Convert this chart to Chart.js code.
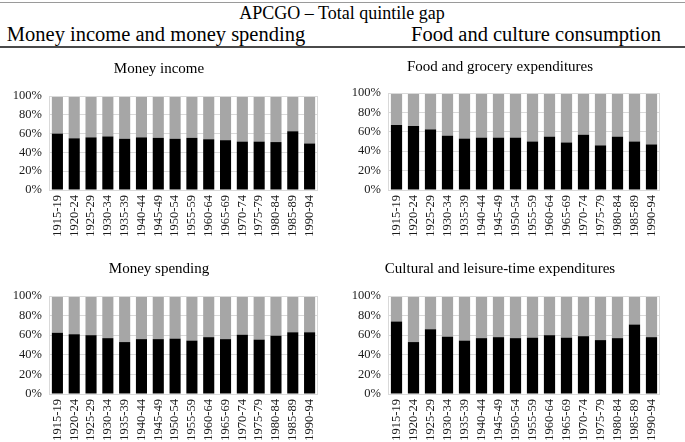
<!DOCTYPE html>
<html>
<head>
<meta charset="utf-8">
<script src="https://cdn.jsdelivr.net/npm/chart.js@4"></script>
<style>
    body { margin: 0; background: #fff; font-family: "Liberation Serif", serif; }
    #page { position: relative; width: 685px; height: 442px; overflow: hidden; }
    .rule-top { position: absolute; left: 0; top: 2px; width: 685px; height: 1px; background: #9a9a9a; }
    .rule-mid { position: absolute; left: 0; top: 46px; width: 685px; height: 2px; background: #4a4a4a; }
    .head { position: absolute; white-space: nowrap; color: #000; transform: translateX(-50%); }
    .panel { position: absolute; }
</style>
</head>
<body>
<div id="page">
    <div class="rule-top"></div>
    <div class="head" style="left:342px; top:3px; font-size:18px; line-height:20px;">APCGO – Total quintile gap</div>
    <div class="head" style="left:156px; top:23px; font-size:20.5px; line-height:22px;">Money income and money spending</div>
    <div class="head" style="left:536px; top:23px; font-size:20.5px; line-height:22px;">Food and culture consumption</div>
    <div class="rule-mid"></div>

    <div class="panel" style="left:0px; top:55px; width:340px; height:195px;"><canvas id="incomeChart"></canvas></div>
    <div class="panel" style="left:340px; top:55px; width:336px; height:195px;"><canvas id="foodChart"></canvas></div>
    <div class="panel" style="left:0px; top:255px; width:340px; height:187px;"><canvas id="spendChart"></canvas></div>
    <div class="panel" style="left:340px; top:255px; width:336px; height:187px;"><canvas id="cultureChart"></canvas></div>
</div>

<script>
// Periods (x axis)
const periods = ["1915-19", "1920-24", "1925-29", "1930-34", "1935-39", "1940-44", "1945-49", "1950-54",
    "1955-59", "1960-64", "1965-69", "1970-74", "1975-79", "1980-84", "1985-89", "1990-94"];

// Y axis ticks (percent)
const percentTicks = [0, 20, 40, 60, 80, 100];

// Money income
const incomeBottom = [60, 55, 56, 57, 54.5, 56, 55.5, 54.5, 55.5, 54, 53, 51.5, 51.5, 51, 62.5, 49.5];
const incomeTop = [40, 45, 44, 43, 45.5, 44, 44.5, 45.5, 44.5, 46, 47, 48.5, 48.5, 49, 37.5, 50.5];

// Food and grocery expenditures
const foodBottom = [67, 66, 62.5, 56, 53, 54, 54, 54, 50, 55, 49, 57, 46, 55, 50, 47];
const foodTop = [33, 34, 37.5, 44, 47, 46, 46, 46, 50, 45, 51, 43, 54, 45, 50, 53];

// Money spending
const spendBottom = [62.5, 61, 60, 57, 53, 56, 56, 56.5, 54.5, 58, 56, 60.5, 55.5, 59.5, 63, 63];
const spendTop = [37.5, 39, 40, 43, 47, 44, 44, 43.5, 45.5, 42, 44, 39.5, 44.5, 40.5, 37, 37];

// Cultural and leisure-time expenditures
const cultureBottom = [74, 53, 66, 58.5, 54.5, 57, 58, 57, 57.5, 60, 57.5, 59, 55, 57, 71, 58];
const cultureTop = [26, 47, 34, 41.5, 45.5, 43, 42, 43, 42.5, 40, 42.5, 41, 45, 43, 29, 42];

// Colors
const barColors = {
    bottom: "#000000",
    top: "#a6a6a6",
    grid: "#d9d9d9",
    text: "#1a1a1a"
};

const serif = "'Liberation Serif', 'Times New Roman', serif";

// Light frame around the plot area
const frameLines = {
    id: "frameLines",
    afterDraw(chart) {
        const { ctx, chartArea } = chart;
        ctx.save();
        ctx.strokeStyle = barColors.grid;
        ctx.lineWidth = 1;
        ctx.strokeRect(Math.round(chartArea.left) + 0.5, Math.round(chartArea.top) + 0.5,
            Math.round(chartArea.right - chartArea.left) - 1, Math.round(chartArea.bottom - chartArea.top));
        ctx.restore();
    }
};

// Build one 100% stacked panel
function createPanel(canvasId, title, bottomValues, topValues, opts) {
    const ctx = document.getElementById(canvasId).getContext("2d");
    return new Chart(ctx, {
        type: "bar",
        data: {
            labels: periods,
            datasets: [
                {
                    label: "Bottom",
                    data: bottomValues,
                    backgroundColor: barColors.bottom,
                    barPercentage: 0.66,
                    categoryPercentage: 1
                },
                {
                    label: "Top",
                    data: topValues,
                    backgroundColor: barColors.top,
                    barPercentage: 0.66,
                    categoryPercentage: 1
                }
            ]
        },
        options: {
            responsive: true,
            maintainAspectRatio: false,
            animation: false,
            layout: {
                padding: { left: 0, right: opts.right, top: 0, bottom: 0 }
            },
            scales: {
                x: {
                    stacked: true,
                    grid: { display: false, drawTicks: false },
                    border: { display: false },
                    ticks: {
                        color: barColors.text,
                        font: { family: serif, size: 12.5 },
                        minRotation: 90,
                        maxRotation: 90,
                        autoSkip: false,
                        padding: 5
                    },
                    afterFit(axis) { axis.height = opts.xHeight; }
                },
                y: {
                    stacked: true,
                    min: 0,
                    max: 100,
                    afterBuildTicks(axis) {
                        axis.ticks = percentTicks.map(v => ({ value: v }));
                    },
                    grid: { color: barColors.grid, drawTicks: false },
                    border: { color: barColors.grid },
                    ticks: {
                        color: barColors.text,
                        font: { family: serif, size: 12.5 },
                        padding: 7,
                        callback: value => value + "%"
                    },
                    afterFit(axis) { axis.width = opts.yWidth; }
                }
            },
            plugins: {
                legend: { display: false },
                tooltip: { enabled: true },
                title: {
                    display: true,
                    text: title,
                    color: "#000",
                    font: { family: serif, size: 15, weight: "normal" },
                    padding: { top: opts.titleTop, bottom: opts.titleBottom }
                }
            }
        },
        plugins: [frameLines]
    });
}

document.addEventListener("DOMContentLoaded", () => {
    createPanel("incomeChart", "Money income", incomeBottom, incomeTop,
        { right: 22, yWidth: 49, xHeight: 60, titleTop: 5, titleBottom: 18 });
    createPanel("foodChart", "Food and grocery expenditures", foodBottom, foodTop,
        { right: 16, yWidth: 48, xHeight: 60, titleTop: 3, titleBottom: 17 });
    createPanel("spendChart", "Money spending", spendBottom, spendTop,
        { right: 22, yWidth: 49, xHeight: 48, titleTop: 5, titleBottom: 18 });
    createPanel("cultureChart", "Cultural and leisure-time expenditures", cultureBottom, cultureTop,
        { right: 16, yWidth: 48, xHeight: 48, titleTop: 5, titleBottom: 18 });
});
</script>
</body>
</html>
